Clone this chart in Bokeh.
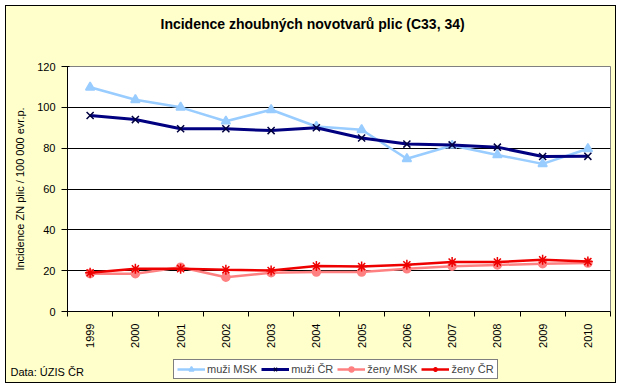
from bokeh.plotting import figure
from bokeh.models import Range1d, FixedTicker, Legend, Title, Label, Column
from bokeh.embed import file_html
from bokeh.resources import INLINE

years = ["1999", "2000", "2001", "2002", "2003", "2004", "2005", "2006", "2007", "2008", "2009", "2010"]
muzi_msk = [109.8, 103.7, 100.0, 93.2, 98.8, 90.6, 89.0, 74.8, 81.3, 76.7, 72.3, 79.7]
muzi_cr = [96.0, 94.0, 89.5, 89.5, 88.6, 90.0, 85.0, 82.0, 81.6, 80.5, 75.9, 76.0]
zeny_msk = [18.5, 18.5, 21.7, 16.8, 19.0, 19.3, 19.3, 20.9, 22.2, 22.8, 23.4, 23.7]
zeny_cr = [19.0, 20.9, 21.0, 20.4, 20.1, 22.3, 22.0, 22.9, 24.2, 24.2, 25.3, 24.5]
y_ticks = [0, 20, 40, 60, 80, 100, 120]

FONT = "Liberation Sans"
BG = "#FFFFCC"
xs = [i + 0.5 for i in range(len(years))]

p = figure(frame_width=543, frame_height=245, output_backend="svg", toolbar_location=None,
           title_location=None,
           x_range=Range1d(0, len(years)), y_range=Range1d(0, 120),
           min_border_left=61, min_border_right=5, min_border_top=60, min_border_bottom=44)
p.background_fill_color = "white"
p.border_fill_color = BG
p.outline_line_color = "#808080"

spacer = Title(text=" ", text_font_size="1px", standoff=32)
main_title = Title(text="Incidence zhoubných novotvarů plic (C33, 34)", align="left",
                   offset=93, standoff=0, text_font=FONT, text_font_size="14px",
                   text_font_style="bold", text_color="black")
p.add_layout(spacer, "above")
p.add_layout(main_title, "above")

p.xgrid.visible = False
p.ygrid.ticker = FixedTicker(ticks=y_ticks[1:-1])
p.ygrid.grid_line_color = "black"
p.ygrid.grid_line_width = 1

p.xaxis.ticker = FixedTicker(ticks=xs, minor_ticks=list(range(len(years) + 1)))
p.xaxis.major_label_overrides = {x: y for x, y in zip(xs, years)}
p.xaxis.major_label_orientation = 1.5708
p.xaxis.major_tick_line_color = None
p.xaxis.minor_tick_in = 0
p.xaxis.minor_tick_out = 5
p.xaxis.minor_tick_line_color = "black"
p.xaxis.major_label_standoff = 6

p.yaxis.ticker = FixedTicker(ticks=y_ticks)
p.yaxis.minor_tick_line_color = None
p.yaxis.major_tick_in = 2
p.yaxis.major_tick_out = 6
p.yaxis.major_tick_line_color = "black"
p.yaxis.major_label_standoff = 6
p.yaxis.axis_label = "Incidence ZN plic / 100 000 evr.p."
p.yaxis.axis_label_standoff = 8

for ax in (p.xaxis[0], p.yaxis[0]):
    ax.axis_line_color = "black"
    ax.major_label_text_font = FONT
    ax.major_label_text_font_size = "11px"
    ax.major_label_text_color = "black"
    ax.axis_label_text_font = FONT
    ax.axis_label_text_font_size = "11px"
    ax.axis_label_text_font_style = "normal"
    ax.axis_label_text_color = "black"

series = [
    ("muži MSK", muzi_msk, "#99CCFF", 2.5, "triangle", 9),
    ("muži ČR", muzi_cr, "#000080", 3, "x", 10),
    ("ženy MSK", zeny_msk, "#FF8080", 2.5, "circle", 8),
    ("ženy ČR", zeny_cr, "#EE0000", 2.5, "asterisk", 10),
]

# strip below the chart holding the legend and the source note
p2 = figure(width=609, height=27, output_backend="svg", toolbar_location=None,
            x_range=Range1d(1000, 1609), y_range=Range1d(1000, 1027),
            min_border=0, min_border_left=0, min_border_right=0,
            min_border_top=0, min_border_bottom=0)
p2.axis.visible = False
p2.grid.visible = False
p2.background_fill_color = BG
p2.border_fill_color = BG
p2.outline_line_color = None
p2.styles = {"transform": "translateX(-61px)"}

items = []
for name, vals, col, lw, mk, sz in series:
    mcol = "#000040" if mk == "x" else col
    p.line(xs, vals, line_color=col, line_width=lw)
    p.scatter(xs, vals, marker=mk, size=sz, fill_color=col, line_color=mcol, line_width=1.5)
    # same series in the strip (outside its visible range) to feed the legend
    l2 = p2.line(xs, vals, line_color=col, line_width=lw)
    s2 = p2.scatter(xs, vals, marker=mk, size=sz, fill_color=col, line_color=mcol, line_width=1.5)
    items.append((name, [l2, s2]))

legend = Legend(items=items, orientation="horizontal", location=(167, 3),
                background_fill_color="white", background_fill_alpha=1,
                border_line_color="black", border_line_width=1,
                label_text_font=FONT, label_text_font_size="11px",
                glyph_width=28, glyph_height=12, padding=3, spacing=4, margin=0,
                label_standoff=2, label_height=12)
p2.add_layout(legend, "center")

p2.add_layout(Label(x=4, y=11, x_units="screen", y_units="screen",
                    text="Data: ÚZIS ČR", text_font=FONT, text_font_size="11px",
                    text_align="left", text_baseline="middle", text_color="black"))

layout = Column(children=[p, p2], spacing=0)
layout.styles = {"margin-left": "5px", "margin-top": "5px", "border": "1px solid #000000",
                 "background-color": BG, "overflow": "hidden"}

open("out.html", "w").write(file_html(layout, INLINE))
